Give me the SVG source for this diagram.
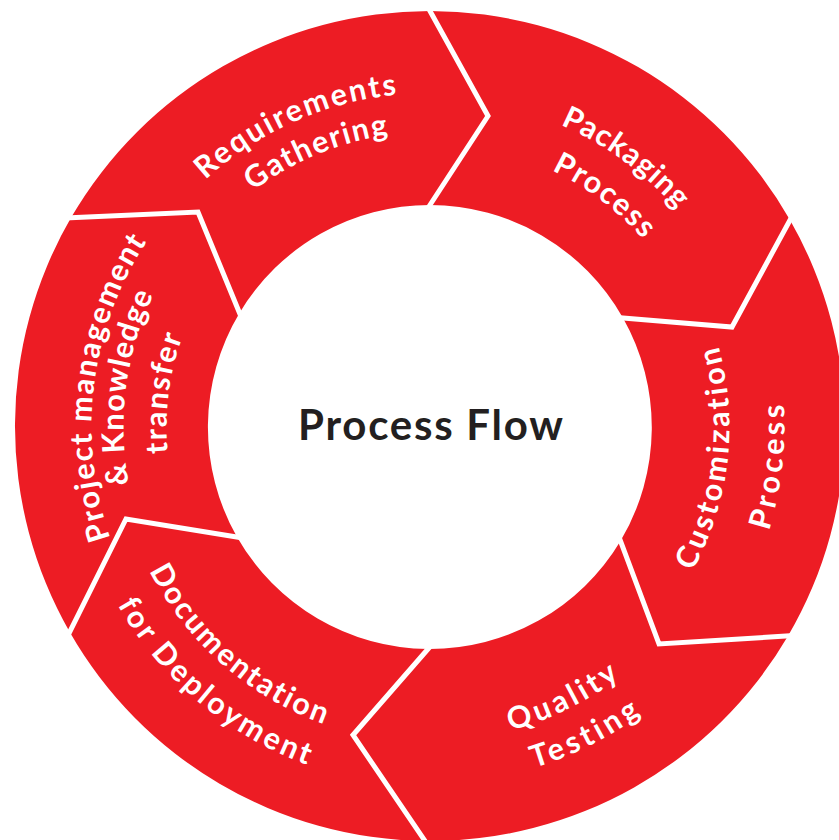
<svg xmlns="http://www.w3.org/2000/svg" xmlns:xlink="http://www.w3.org/1999/xlink" width="839" height="840" viewBox="0 0 839 840">
<style>
.seg{fill:#ED1C24;stroke:none}
.sep{fill:none;stroke:#FFFFFF;stroke-width:5;stroke-linejoin:miter;stroke-miterlimit:10}
.lbl{font-family:"Lato","Liberation Sans",sans-serif;font-weight:700;font-size:30.5px;fill:#FFFFFF;font-variant-ligatures:none}
.title{font-family:"Lato","Liberation Sans",sans-serif;font-weight:700;font-size:42px;fill:#231F20;font-variant-ligatures:none}
</style>
<defs>
<path id="p1" d="M118.2 307.3 A334 334 0 0 1 549.7 115.2"/>
<path id="p2" d="M157.5 314.1 A295 295 0 0 1 542.9 154.5"/>
<path id="p3" d="M378.5 102.0 A329 329 0 0 1 755.0 375.5"/>
<path id="p4" d="M390.5 145.8 A284 284 0 0 1 711.2 387.5"/>
<path id="p5" d="M616.0 661.7 A299.5 299.5 0 0 0 664.7 241.0"/>
<path id="p6" d="M649.7 705.2 A354.5 354.5 0 0 0 708.2 207.3"/>
<path id="p7" d="M327.8 723.9 A314 314 0 0 0 726.9 529.2"/>
<path id="p8" d="M317.5 765.3 A356.5 356.5 0 0 0 768.3 539.5"/>
<path id="p9" d="M115.2 447.4 A315.5 315.5 0 0 0 450.4 741.8"/>
<path id="p10" d="M71.8 457.1 A359.5 359.5 0 0 0 460.1 785.2"/>
<path id="p11" d="M163.3 635.4 A338.5 338.5 0 0 1 221.6 160.3"/>
<path id="p12" d="M187.2 614.0 A306.5 306.5 0 0 1 243.0 184.2"/>
<path id="p13" d="M221.8 588.5 A263.5 263.5 0 0 1 268.5 218.8"/>
</defs>
<rect x="0" y="0" width="839" height="840" fill="#FFFFFF"/>

<g id="requirements-gathering">
<path class="seg" d="M71.1 217.6 A415 415 0 0 1 430 11 L488 116 L430 205 A222 222 0 0 0 239.5 312.9 L198 212 Z"/>
<text class="lbl" text-anchor="middle"><textPath xlink:href="#p1" href="#p1" startOffset="50%" textLength="213">Requirements</textPath></text>
<text class="lbl" text-anchor="middle"><textPath xlink:href="#p2" href="#p2" startOffset="50%" textLength="148">Gathering</textPath></text>
</g>

<g id="packaging-process">
<path class="seg" d="M430 11 A415 415 0 0 1 790 220 L732 327 L623 318 A222 222 0 0 0 430 205 L488 116 Z"/>
<text class="lbl" text-anchor="middle"><textPath xlink:href="#p3" href="#p3" startOffset="50%" textLength="145">Packaging</textPath></text>
<text class="lbl" text-anchor="middle"><textPath xlink:href="#p4" href="#p4" startOffset="50%" textLength="115">Process</textPath></text>
</g>

<g id="customization-process">
<path class="seg" d="M790 220 A415 415 0 0 1 788 636 L659 644 L620.5 541 A222 222 0 0 0 623 318 L732 327 Z"/>
<text class="lbl" text-anchor="middle"><textPath xlink:href="#p5" href="#p5" startOffset="50%" textLength="232">Customization</textPath></text>
<text class="lbl" text-anchor="middle"><textPath xlink:href="#p6" href="#p6" startOffset="50%" textLength="128">Process</textPath></text>
</g>

<g id="quality-testing">
<path class="seg" d="M788 636 A415 415 0 0 1 425 841 L353 735 L428 649 A222 222 0 0 0 620.5 541 L659 644 Z"/>
<text class="lbl" text-anchor="middle"><textPath xlink:href="#p7" href="#p7" startOffset="50%" textLength="122">Quality</textPath></text>
<text class="lbl" text-anchor="middle"><textPath xlink:href="#p8" href="#p8" startOffset="50%" textLength="120">Testing</textPath></text>
</g>

<g id="documentation-deployment">
<path class="seg" d="M425 841 A415 415 0 0 1 69.7 632 L126 519 L237 537 A222 222 0 0 0 428 649 L353 735 Z"/>
<text class="lbl" text-anchor="middle"><textPath xlink:href="#p9" href="#p9" startOffset="50%" textLength="238">Documentation</textPath></text>
<text class="lbl" text-anchor="middle"><textPath xlink:href="#p10" href="#p10" startOffset="50%" textLength="253">for Deployment</textPath></text>
</g>

<g id="project-management">
<path class="seg" d="M69.7 632 A415 415 0 0 1 71.1 217.6 L198 212 L239.5 313 A222 222 0 0 0 237 537 L126 519 Z"/>
<text class="lbl" text-anchor="middle"><textPath xlink:href="#p11" href="#p11" startOffset="50%" textLength="309">Project management</textPath></text>
<text class="lbl" text-anchor="middle"><textPath xlink:href="#p12" href="#p12" startOffset="50%" textLength="194">&amp; Knowledge</textPath></text>
<text class="lbl" text-anchor="middle"><textPath xlink:href="#p13" href="#p13" startOffset="50%" textLength="118">transfer</textPath></text>
</g>

<g id="connectors">
<polyline class="sep" points="427.1,5.7 488,116 426.7,210"/>
<polyline class="sep" points="792.9,214.7 732,327 617,317.5"/>
<polyline class="sep" points="794,635.6 659,644 618.4,535.4"/>
<polyline class="sep" points="428.4,846 353,735 431.9,644.5"/>
<polyline class="sep" points="67,637.4 126,519 242.9,538"/>
<polyline class="sep" points="65,217.9 198,212 241.8,318.5"/>
</g>

<g id="center">
<text class="title" x="430.5" y="440" text-anchor="middle" textLength="265" lengthAdjust="spacing">Process Flow</text>
</g>
</svg>
